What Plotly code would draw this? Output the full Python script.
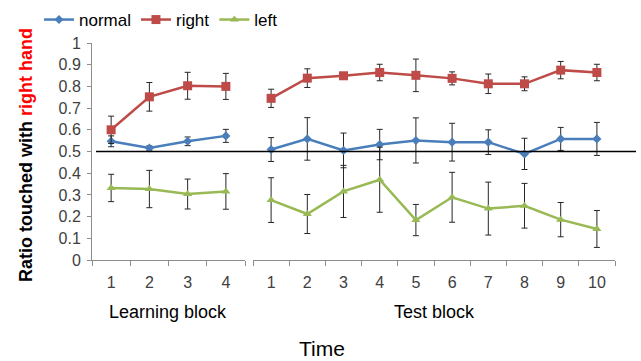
import plotly.graph_objects as go

# Block labels
learn_blocks = ["1", "2", "3", "4"]
test_blocks = ["1", "2", "3", "4", "5", "6", "7", "8", "9", "10"]

# Mean ratio of right-hand touches, learning phase
normal_learn = [0.547, 0.516, 0.547, 0.572]
right_learn = [0.600, 0.752, 0.803, 0.800]
left_learn = [0.332, 0.327, 0.304, 0.316]

# Mean ratio of right-hand touches, test phase
normal_test = [0.509, 0.558, 0.505, 0.532, 0.551, 0.543, 0.543, 0.489, 0.558, 0.558]
right_test = [0.745, 0.838, 0.849, 0.864, 0.851, 0.837, 0.812, 0.812, 0.875, 0.864]
left_test = [0.276, 0.212, 0.316, 0.370, 0.184, 0.289, 0.237, 0.250, 0.186, 0.143]

# Error-bar half widths
normal_learn_err = [0.025, 0.010, 0.020, 0.030]
right_learn_err = [0.063, 0.066, 0.062, 0.060]
left_learn_err = [0.063, 0.086, 0.069, 0.082]
normal_test_err = [0.055, 0.098, 0.080, 0.070, 0.104, 0.087, 0.057, 0.072, 0.053, 0.076]
right_test_err = [0.042, 0.043, 0.010, 0.038, 0.075, 0.030, 0.045, 0.032, 0.040, 0.038]
left_test_err = [0.103, 0.090, 0.120, 0.150, 0.072, 0.115, 0.122, 0.103, 0.079, 0.085]

series = [
    ("normal", "#4A7EBB", "diamond", 7, normal_learn, normal_learn_err, normal_test, normal_test_err),
    ("right", "#BE4B48", "square", 9, right_learn, right_learn_err, right_test, right_test_err),
    ("left", "#98B954", "triangle-up", 8, left_learn, left_learn_err, left_test, left_test_err),
]

fig = go.Figure()
for name, color, symbol, msize, ly, le, ty, te in series:
    common = dict(
        mode="lines+markers",
        line=dict(color=color, width=2.5),
        marker=dict(symbol=symbol, size=msize, color=color),
        legendgroup=name,
        name=name,
    )
    fig.add_trace(go.Scatter(
        x=learn_blocks, y=ly, xaxis="x", yaxis="y", showlegend=True,
        error_y=dict(type="data", array=le, color="#262626", thickness=1, width=3),
        **common))
    fig.add_trace(go.Scatter(
        x=test_blocks, y=ty, xaxis="x2", yaxis="y", showlegend=False,
        error_y=dict(type="data", array=te, color="#262626", thickness=1, width=3),
        **common))

# Canvas geometry (pixels) used to place the panels inside the paper area
W, H = 641, 361
ML, MR, MT, MB = 10, 5, 0, 101
PW, PH = W - ML - MR, H - MT - MB
BOTTOM = H - MB


def px(x):
    return (x - ML) / PW


def py(y):
    return (BOTTOM - y) / PH


tick_font = dict(family="Liberation Sans", size=16, color="#404040")
axis_common = dict(
    type="category", showline=True, linecolor="#8C8C8C", linewidth=1,
    ticks="outside", tickson="boundaries", ticklen=5, tickcolor="#8C8C8C",
    showgrid=False, zeroline=False, ticklabelstandoff=8, tickfont=tick_font,
    automargin=False,
)

fig.update_layout(
    width=W, height=H,
    margin=dict(l=ML, r=MR, t=MT, b=MB, autoexpand=False),
    plot_bgcolor="white", paper_bgcolor="white",
    xaxis=dict(domain=[px(92), px(245)], range=[-0.5, 3.5], **axis_common),
    xaxis2=dict(domain=[px(253), px(615)], range=[-0.5, 9.5], anchor="y", **axis_common),
    yaxis=dict(
        domain=[0, py(43)],
        range=[0, 1], dtick=0.1, showline=True, linecolor="#8C8C8C", linewidth=1,
        ticks="outside", ticklen=4, tickcolor="#8C8C8C", showgrid=False, zeroline=False,
        ticklabelstandoff=3, tickfont=tick_font, automargin=False,
    ),
    legend=dict(
        orientation="h", x=px(39), y=py(20), xanchor="left", yanchor="middle",
        font=dict(family="Liberation Sans", size=17, color="#000000"),
        bgcolor="rgba(0,0,0,0)", itemwidth=30, tracegroupgap=0,
    ),
    showlegend=True,
)

# Chance level reference line
fig.add_shape(type="line", xref="paper", yref="y", x0=px(96), x1=px(636), y0=0.5, y1=0.5,
              line=dict(color="black", width=1.5))

ann_font = dict(family="Liberation Sans", color="#000000")
ann_pos = dict(xref="paper", yref="paper", xanchor="center", yanchor="middle", showarrow=False)
fig.add_annotation(text="Learning block", x=px(168), y=py(312),
                   font=dict(size=18, **ann_font), **ann_pos)
fig.add_annotation(text="Test block", x=px(434), y=py(312),
                   font=dict(size=18, **ann_font), **ann_pos)
fig.add_annotation(text="Time", x=px(322), y=py(348),
                   font=dict(size=21, **ann_font), **ann_pos)
fig.add_annotation(text="<b>Ratio touched with <span style='color:#FF0000'>right hand</span></b>",
                   x=px(26), y=py(155), textangle=-90,
                   font=dict(size=18, **ann_font), **ann_pos)

fig.write_html("out.html")
